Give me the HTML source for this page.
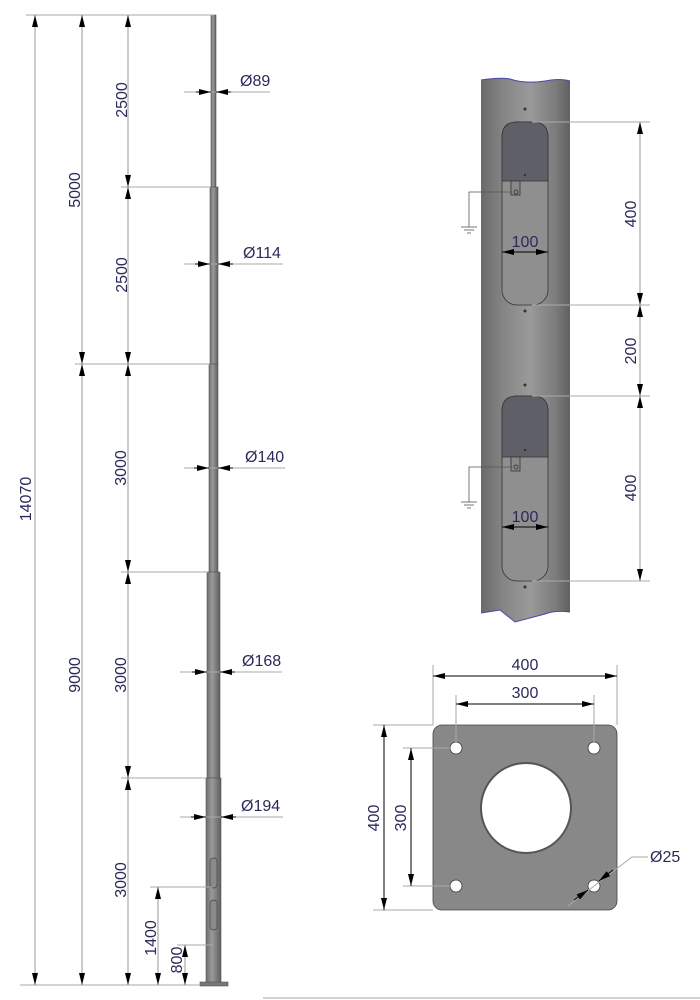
<!DOCTYPE html>
<html><head><meta charset="utf-8"><style>
html,body{margin:0;padding:0;background:#fff;}
svg{display:block;}
text{font-family:"Liberation Sans",sans-serif;font-size:16px;fill:#2a2a5a;}
</style></head><body>
<svg width="700" height="1000" viewBox="0 0 700 1000" xmlns="http://www.w3.org/2000/svg">
<defs>
<linearGradient id="pg" x1="0" x2="1" y1="0" y2="0">
<stop offset="0" stop-color="#6e6e6e"/><stop offset="0.4" stop-color="#9a9a9a"/><stop offset="1" stop-color="#5e5e5e"/>
</linearGradient>
<linearGradient id="bg" x1="0" x2="1" y1="0" y2="0">
<stop offset="0" stop-color="#6a6a6a"/><stop offset="0.25" stop-color="#858585"/><stop offset="0.55" stop-color="#9a9a9a"/><stop offset="0.85" stop-color="#7a7a7a"/><stop offset="1" stop-color="#606060"/>
</linearGradient>
<marker id="a" viewBox="0 0 12 6" refX="12" refY="3" markerWidth="12" markerHeight="6" orient="auto-start-reverse" markerUnits="userSpaceOnUse"><path d="M0,0L12,3L0,6z" fill="#000"/></marker>
</defs>

<g stroke="#555" stroke-width="0.6" fill="url(#pg)">
<rect x="211" y="15" width="5" height="172"/>
<rect x="210" y="187" width="8" height="177"/>
<rect x="209" y="364" width="9" height="208"/>
<rect x="207" y="572" width="13" height="206"/>
<rect x="206" y="778" width="15" height="205"/>
<rect x="200" y="982" width="28" height="4" fill="#777"/>
</g>
<rect x="210" y="858" width="7" height="30" rx="3.5" fill="#8a8a8a" stroke="#444" stroke-width="0.7"/>
<rect x="210" y="900" width="7" height="30" rx="3.5" fill="#8a8a8a" stroke="#444" stroke-width="0.7"/>

<g stroke="#aaa" stroke-width="1">
<line x1="26" y1="15" x2="214" y2="15"/>
<line x1="121" y1="187" x2="211" y2="187"/>
<line x1="75" y1="364" x2="210" y2="364"/>
<line x1="121" y1="572" x2="208" y2="572"/>
<line x1="121" y1="778" x2="206" y2="778"/>
<line x1="150" y1="887" x2="213" y2="887"/>
<line x1="177" y1="945" x2="213" y2="945"/>
<line x1="20" y1="985" x2="200" y2="985"/>
<line x1="263" y1="998" x2="700" y2="998"/>
<line x1="184" y1="92" x2="270" y2="92"/>
<line x1="184" y1="264" x2="283" y2="264"/>
<line x1="184" y1="468" x2="285" y2="468"/>
<line x1="180" y1="672" x2="282" y2="672"/>
<line x1="180" y1="817" x2="283" y2="817"/>
</g>
<g stroke="#999" stroke-width="1" marker-start="url(#a)" marker-end="url(#a)">
<line x1="35" y1="15" x2="35" y2="985"/>
<line x1="82" y1="15" x2="82" y2="364"/>
<line x1="82" y1="364" x2="82" y2="985"/>
<line x1="128" y1="15" x2="128" y2="187"/>
<line x1="128" y1="187" x2="128" y2="364"/>
<line x1="128" y1="364" x2="128" y2="572"/>
<line x1="128" y1="572" x2="128" y2="778"/>
<line x1="128" y1="778" x2="128" y2="985"/>
<line x1="158" y1="887" x2="158" y2="985"/>
<line x1="185" y1="945" x2="185" y2="985"/>
</g>
<g stroke="#000" stroke-width="1" marker-end="url(#a)">
<line x1="196" y1="92" x2="211" y2="92"/><line x1="231" y1="92" x2="216" y2="92"/>
<line x1="195" y1="264" x2="210" y2="264"/><line x1="233" y1="264" x2="218" y2="264"/>
<line x1="194" y1="468" x2="209" y2="468"/><line x1="233" y1="468" x2="218" y2="468"/>
<line x1="192" y1="672" x2="207" y2="672"/><line x1="235" y1="672" x2="220" y2="672"/>
<line x1="191" y1="817" x2="206" y2="817"/><line x1="236" y1="817" x2="221" y2="817"/>
</g>
<text x="240" y="86">Ø89</text>
<text x="243" y="258">Ø114</text>
<text x="245" y="462">Ø140</text>
<text x="242" y="666">Ø168</text>
<text x="241" y="811">Ø194</text>

<g text-anchor="middle">
<text transform="translate(127,100) rotate(-90)">2500</text>
<text transform="translate(80,190) rotate(-90)">5000</text>
<text transform="translate(127,275) rotate(-90)">2500</text>
<text transform="translate(31,499) rotate(-90)">14070</text>
<text transform="translate(126,468) rotate(-90)">3000</text>
<text transform="translate(80,675) rotate(-90)">9000</text>
<text transform="translate(126,675) rotate(-90)">3000</text>
<text transform="translate(126,880) rotate(-90)">3000</text>
<text transform="translate(156,938) rotate(-90)">1400</text>
<text transform="translate(182,960) rotate(-90)">800</text>
</g>

<path d="M481,80 Q500,77 510,79 Q525,84 545,81 Q560,78 570,81 L570,612 Q555,610 545,614 L515,622 L500,610 L481,613 Z" fill="url(#bg)"/>
<path d="M481,80 Q500,77 510,79 Q525,84 545,81 Q560,78 570,81" fill="none" stroke="#4a4aa8" stroke-width="1"/>
<path d="M481,613 L500,610 L515,622 L545,614 Q555,610 570,612" fill="none" stroke="#4a4aa8" stroke-width="1"/>
<g stroke="#333" stroke-width="0.8">
<rect x="502" y="122" width="46" height="183" rx="15" fill="#8f8f8f"/>
<path d="M502,181 L502,137 Q502,122 517,122 L533,122 Q548,122 548,137 L548,181 Z" fill="#5f5f67"/>
<rect x="511" y="181" width="9" height="14" fill="#888"/>
<circle cx="516" cy="192" r="2" fill="none"/>
<rect x="502" y="396" width="46" height="185" rx="15" fill="#8f8f8f"/>
<path d="M502,457 L502,411 Q502,396 517,396 L533,396 Q548,396 548,411 L548,457 Z" fill="#5f5f67"/>
<rect x="511" y="457" width="9" height="14" fill="#888"/>
<circle cx="516" cy="467" r="2" fill="none"/>
</g>
<g fill="#333"><circle cx="525" cy="109" r="1.5"/><circle cx="525" cy="311" r="1.5"/><circle cx="525" cy="385" r="1.5"/><circle cx="525" cy="587" r="1.5"/><circle cx="525" cy="175" r="1.2"/><circle cx="525" cy="450" r="1.2"/></g>
<g stroke="#555" stroke-width="0.8" fill="none">
<polyline points="512,192 469,192 469,227"/>
<line x1="461" y1="227" x2="477" y2="227"/><line x1="464" y1="230" x2="474" y2="230"/><line x1="467" y1="233" x2="471" y2="233"/>
<polyline points="512,467 469,467 469,502"/>
<line x1="461" y1="502" x2="477" y2="502"/><line x1="464" y1="505" x2="474" y2="505"/><line x1="467" y1="508" x2="471" y2="508"/>
</g>
<g stroke="#aaa"><line x1="532" y1="122" x2="650" y2="122"/><line x1="532" y1="305" x2="650" y2="305"/><line x1="532" y1="396" x2="650" y2="396"/><line x1="532" y1="581" x2="650" y2="581"/></g>
<g stroke="#999" marker-start="url(#a)" marker-end="url(#a)">
<line x1="640" y1="122" x2="640" y2="305"/>
<line x1="640" y1="305" x2="640" y2="396"/>
<line x1="640" y1="396" x2="640" y2="581"/>
</g>
<g stroke="#000" marker-start="url(#a)" marker-end="url(#a)">
<line x1="502" y1="252" x2="548" y2="252"/>
<line x1="502" y1="527" x2="548" y2="527"/>
</g>
<text x="525" y="247" text-anchor="middle">100</text>
<text x="525" y="522" text-anchor="middle">100</text>
<g text-anchor="middle">
<text transform="translate(636,214) rotate(-90)">400</text>
<text transform="translate(636,351) rotate(-90)">200</text>
<text transform="translate(636,488) rotate(-90)">400</text>
</g>

<rect x="433" y="725" width="184" height="185" rx="9" fill="#888" stroke="#444" stroke-width="0.8"/>
<circle cx="526" cy="808" r="45" fill="#fff" stroke="#555" stroke-width="2"/>
<g fill="#fff" stroke="#333" stroke-width="0.8">
<circle cx="456" cy="748" r="6"/><circle cx="594" cy="748" r="6"/><circle cx="456" cy="886" r="6"/><circle cx="594" cy="886" r="6"/>
</g>
<g stroke="#aaa">
<line x1="433" y1="665" x2="433" y2="725"/><line x1="617" y1="665" x2="617" y2="725"/>
<line x1="456" y1="695" x2="456" y2="742"/><line x1="594" y1="695" x2="594" y2="742"/>
<line x1="373" y1="725" x2="433" y2="725"/><line x1="373" y1="910" x2="433" y2="910"/>
<line x1="403" y1="748" x2="450" y2="748"/><line x1="403" y1="886" x2="450" y2="886"/>
<polyline points="568,906 632,857 648,857" fill="none"/>
</g>
<g stroke="#000" marker-start="url(#a)" marker-end="url(#a)">
<line x1="433" y1="676" x2="617" y2="676"/>
<line x1="456" y1="704" x2="594" y2="704"/>
<line x1="384" y1="725" x2="384" y2="910"/>
<line x1="411" y1="748" x2="411" y2="886"/>
</g>
<g stroke="#000" marker-end="url(#a)"><line x1="574" y1="900" x2="588" y2="890"/><line x1="613" y1="870" x2="599" y2="881"/></g>
<text x="525" y="670" text-anchor="middle">400</text>
<text x="525" y="698" text-anchor="middle">300</text>
<text transform="translate(379,818) rotate(-90)" text-anchor="middle">400</text>
<text transform="translate(406,818) rotate(-90)" text-anchor="middle">300</text>
<text x="650" y="862">Ø25</text>
</svg>
</body></html>
